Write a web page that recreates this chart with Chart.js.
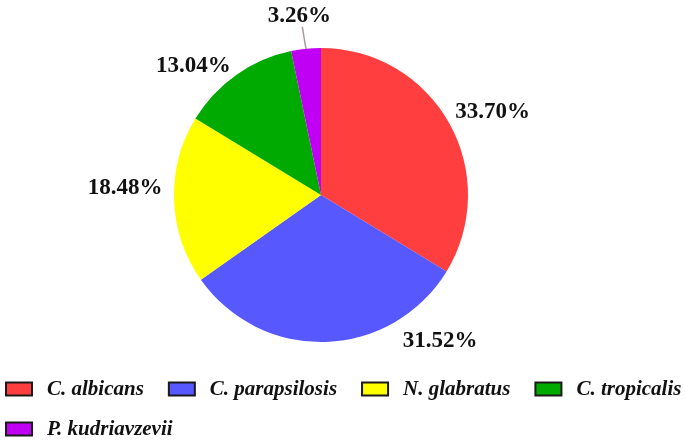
<!DOCTYPE html>
<html>
<head>
<meta charset="utf-8">
<script src="https://cdn.jsdelivr.net/npm/chart.js@4"></script>
<style>
  html, body { margin: 0; padding: 0; background: #fff; }
  #wrap { width: 685px; height: 440px; position: relative; }
</style>
</head>
<body>
<div id="wrap"><canvas id="pie-chart"></canvas></div>
<script>
// ============================================================
// Species distribution pie
// ============================================================

const SPECIES = ['C. albicans', 'C. parapsilosis', 'N. glabratus', 'C. tropicalis', 'P. kudriavzevii'];
const PERCENTS = [33.70, 31.52, 18.48, 13.04, 3.26];

const SLICE_COLORS = ['#ff3f3f', '#5858ff', '#ffff00', '#00aa00', '#c000f4'];

// label placement: distance past the rim, and a small nudge per slice
const LABEL_GAP = 36;
const LABEL_NUDGE = [[12, 6], [113, -38], [-13, -14], [-22, 20], [-3, 2]];
const LABEL_LEADER = [false, false, false, false, true];

const LABEL_FONT = 'bold 23px "Liberation Serif", "Times New Roman", serif';
const LEGEND_FONT = 'italic bold 21px "Liberation Serif", "Times New Roman", serif';

// Percent labels drawn next to each slice
const pctLabels = {
  id: 'pctLabels',
  afterDatasetsDraw(chart) {
    const ctx = chart.ctx;
    const arcs = chart.getDatasetMeta(0).data;
    ctx.save();
    ctx.font = LABEL_FONT;
    ctx.fillStyle = '#111';
    ctx.textAlign = 'center';
    ctx.textBaseline = 'middle';
    arcs.forEach((arc, i) => {
      const mid = (arc.startAngle + arc.endAngle) / 2;
      const r = arc.outerRadius;
      const d = r + LABEL_GAP;
      const lx = arc.x + Math.cos(mid) * d + LABEL_NUDGE[i][0];
      const ly = arc.y + Math.sin(mid) * d + LABEL_NUDGE[i][1];
      if (LABEL_LEADER[i]) {
        ctx.strokeStyle = '#a89a9a';
        ctx.lineWidth = 1.5;
        ctx.beginPath();
        ctx.moveTo(arc.x + Math.cos(mid) * r, arc.y + Math.sin(mid) * r);
        ctx.lineTo(lx + 3, ly + 12);
        ctx.stroke();
      }
      ctx.fillText(PERCENTS[i].toFixed(2) + '%', lx, ly + 1);
    });
    ctx.restore();
  }
};

// Legend along the bottom, wrapped into rows
const bottomLegend = {
  id: 'bottomLegend',
  afterDraw(chart) {
    const ctx = chart.ctx;
    const boxW = 26, boxH = 13, textGap = 15, itemGap = 25;
    const startX = 6, rowY = [389, 429];
    ctx.save();
    ctx.font = LEGEND_FONT;
    ctx.textBaseline = 'middle';
    ctx.textAlign = 'left';
    let x = startX, row = 0;
    SPECIES.forEach((name, i) => {
      const w = ctx.measureText(name).width;
      if (x + boxW + textGap + w > chart.width && x > startX) {
        row++;
        x = startX;
      }
      const y = rowY[row];
      ctx.fillStyle = SLICE_COLORS[i];
      ctx.fillRect(x, y - boxH / 2, boxW, boxH);
      ctx.strokeStyle = '#1a1a1a';
      ctx.lineWidth = 2;
      ctx.strokeRect(x, y - boxH / 2, boxW, boxH);
      ctx.fillStyle = '#111';
      ctx.fillText(name, x + boxW + textGap, y + 1);
      x += boxW + textGap + w + itemGap;
    });
    ctx.restore();
  }
};

new Chart(document.getElementById('pie-chart'), {
  type: 'pie',
  data: {
    labels: SPECIES,
    datasets: [{
      data: PERCENTS,
      backgroundColor: SLICE_COLORS,
      borderWidth: 0
    }]
  },
  options: {
    responsive: true,
    maintainAspectRatio: false,
    animation: false,
    layout: { padding: { left: 174, right: 217, top: 48, bottom: 98 } },
    plugins: {
      legend: { display: false },
      tooltip: { enabled: false }
    }
  },
  plugins: [pctLabels, bottomLegend]
});
</script>
</body>
</html>
